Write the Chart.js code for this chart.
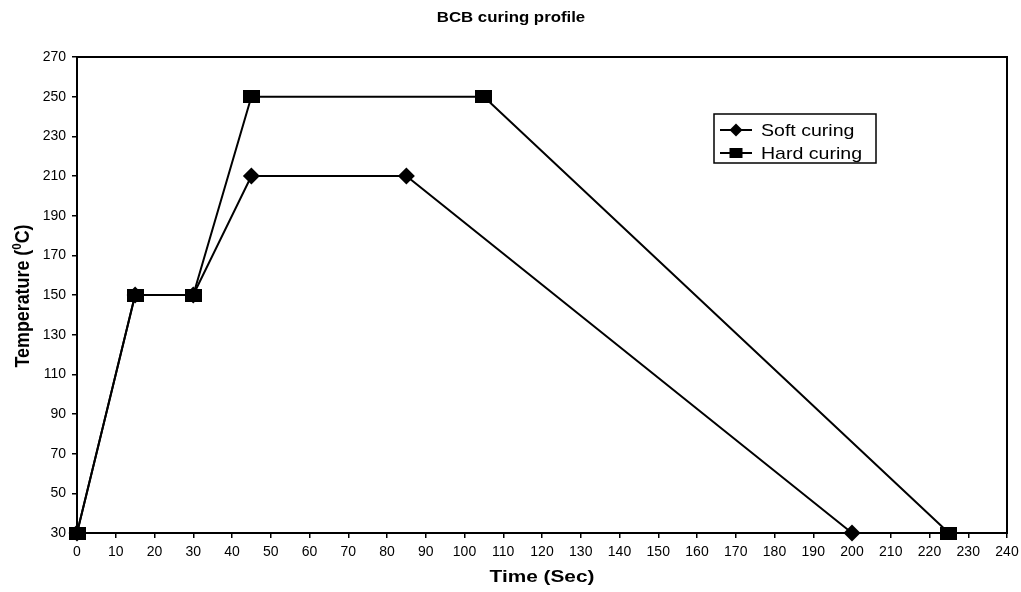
<!DOCTYPE html>
<html>
<head>
<meta charset="utf-8">
<script src="https://cdn.jsdelivr.net/npm/chart.js@4"></script>
<style>
html,body{margin:0;padding:0;background:#fff;}
#wrap{width:1021px;height:592px;position:relative;}
</style>
</head>
<body>
<div id="wrap"><canvas id="c" width="1021" height="592"></canvas></div>
<script>
// ---- data ----
const chartTitle = "BCB curing profile";
const xTitle = "Time (Sec)";
const yTitleMain = "Temperature (";
const yTitleSup = "0";
const yTitleEnd = "C)";
const seriesNames = ["Soft curing", "Hard curing"];
const softTime = [0, 15, 30, 45, 85, 200];
const softTemp = [30, 150, 150, 210, 210, 30];
const hardTime = [0, 15, 30, 45, 105, 225];
const hardTemp = [30, 150, 150, 250, 250, 30];
const xTickValues = [0,10,20,30,40,50,60,70,80,90,100,110,120,130,140,150,160,170,180,190,200,210,220,230,240];
const yTickValues = [30,50,70,90,110,130,150,170,190,210,230,250,270];

const FONT = "'Liberation Sans', Arial, sans-serif";

function rectImg(w, h){
  const cv = document.createElement('canvas');
  cv.width = w; cv.height = h;
  const g = cv.getContext('2d');
  g.fillStyle = '#000';
  g.fillRect(0,0,w,h);
  return cv;
}
const squareMarker = rectImg(17, 13);

function toPts(xs, ys){ return xs.map((x,i)=>({x:x, y:ys[i]})); }

function stretchedText(ctx, text, x, y, font, sx){
  ctx.save();
  ctx.font = font;
  ctx.translate(x, y);
  ctx.scale(sx, 1);
  ctx.fillText(text, 0, 0);
  ctx.restore();
}

const decor = {
  id: 'decor',
  afterDraw(chart){
    const ctx = chart.ctx;
    const a = chart.chartArea;
    ctx.save();
    ctx.strokeStyle = '#000';
    ctx.lineWidth = 2;
    ctx.strokeRect(a.left, a.top, a.right - a.left, a.bottom - a.top);
    ctx.restore();

    ctx.save();
    ctx.fillStyle = '#000';
    ctx.textAlign = 'center';
    ctx.textBaseline = 'middle';
    stretchedText(ctx, chartTitle, 511, 18, 'bold 14px ' + FONT, 1.2);
    stretchedText(ctx, xTitle, 542, 578, 'bold 16px ' + FONT, 1.3);
    ctx.restore();

    ctx.save();
    ctx.fillStyle = '#000';
    ctx.textBaseline = 'middle';
    ctx.textAlign = 'left';
    ctx.translate(24, 296);
    ctx.rotate(-Math.PI/2);
    ctx.scale(1.05, 1.15);
    const fMain = 'bold 17px ' + FONT;
    const fSup = 'bold 11px ' + FONT;
    ctx.font = fMain;
    const w1 = ctx.measureText(yTitleMain).width;
    const w3 = ctx.measureText(yTitleEnd).width;
    ctx.font = fSup;
    const w2 = ctx.measureText(yTitleSup).width;
    let sx = -(w1 + w2 + w3) / 2;
    ctx.font = fMain;
    ctx.fillText(yTitleMain, sx, 0);
    ctx.font = fSup;
    ctx.fillText(yTitleSup, sx + w1, -6);
    ctx.font = fMain;
    ctx.fillText(yTitleEnd, sx + w1 + w2, 0);
    ctx.restore();

    ctx.save();
    ctx.strokeStyle = '#000';
    ctx.lineWidth = 1.5;
    ctx.strokeRect(714, 114, 162, 49);
    const rows = [130, 153];
    rows.forEach((ry, i) => {
      ctx.beginPath();
      ctx.moveTo(720, ry); ctx.lineTo(752, ry);
      ctx.lineWidth = 2;
      ctx.stroke();
      ctx.fillStyle = '#000';
      if (i === 0) {
        ctx.beginPath();
        ctx.moveTo(736, ry - 6.5); ctx.lineTo(742.5, ry); ctx.lineTo(736, ry + 6.5); ctx.lineTo(729.5, ry);
        ctx.closePath(); ctx.fill();
      } else {
        ctx.fillRect(736 - 6.5, ry - 5, 13, 10);
      }
      ctx.textAlign = 'left';
      ctx.textBaseline = 'middle';
      stretchedText(ctx, seriesNames[i], 761, ry + 1, '17px ' + FONT, 1.15);
    });
    ctx.restore();
  }
};

new Chart(document.getElementById('c'), {
  type: 'line',
  data: {
    datasets: [
      {
        label: seriesNames[0],
        data: toPts(softTime, softTemp),
        borderColor: '#000',
        backgroundColor: '#000',
        borderWidth: 2,
        pointStyle: 'rectRot',
        pointRadius: 8.5,
        pointHoverRadius: 8.5,
        pointBorderWidth: 0,
        fill: false,
        tension: 0,
        clip: false,
        order: 1
      },
      {
        label: seriesNames[1],
        data: toPts(hardTime, hardTemp),
        borderColor: '#000',
        backgroundColor: '#000',
        borderWidth: 2,
        pointStyle: squareMarker,
        pointRadius: 8,
        pointHoverRadius: 8,
        pointBorderWidth: 0,
        fill: false,
        tension: 0,
        clip: false,
        order: 0
      }
    ]
  },
  options: {
    responsive: false,
    animation: false,
    events: [],
    layout: { padding: { top: 57, right: 14, left: 0, bottom: 0 } },
    plugins: {
      legend: { display: false },
      title: { display: false },
      tooltip: { enabled: false }
    },
    scales: {
      x: {
        type: 'linear',
        min: 0, max: 240,
        afterBuildTicks: (s) => { s.ticks = xTickValues.map(v => ({ value: v })); },
        afterFit: (s) => { s.height = 59; s.paddingRight = 0; s.paddingLeft = 0; },
        grid: { display: true, drawOnChartArea: false, drawTicks: true, tickLength: 5, color: '#000', lineWidth: 1.5 },
        border: { display: true, color: '#000', width: 2 },
        ticks: { color: '#000', font: { family: FONT, size: 14 }, padding: 6, maxRotation: 0, autoSkip: false }
      },
      y: {
        type: 'linear',
        min: 30, max: 270,
        afterBuildTicks: (s) => { s.ticks = yTickValues.map(v => ({ value: v })); },
        afterFit: (s) => { s.width = 77; s.paddingTop = 0; s.paddingBottom = 0; },
        grid: { display: true, drawOnChartArea: false, drawTicks: true, tickLength: 5, color: '#000', lineWidth: 1.5 },
        border: { display: true, color: '#000', width: 2 },
        ticks: { color: '#000', font: { family: FONT, size: 14 }, padding: 6, autoSkip: false }
      }
    }
  },
  plugins: [decor]
});
</script>
</body>
</html>
